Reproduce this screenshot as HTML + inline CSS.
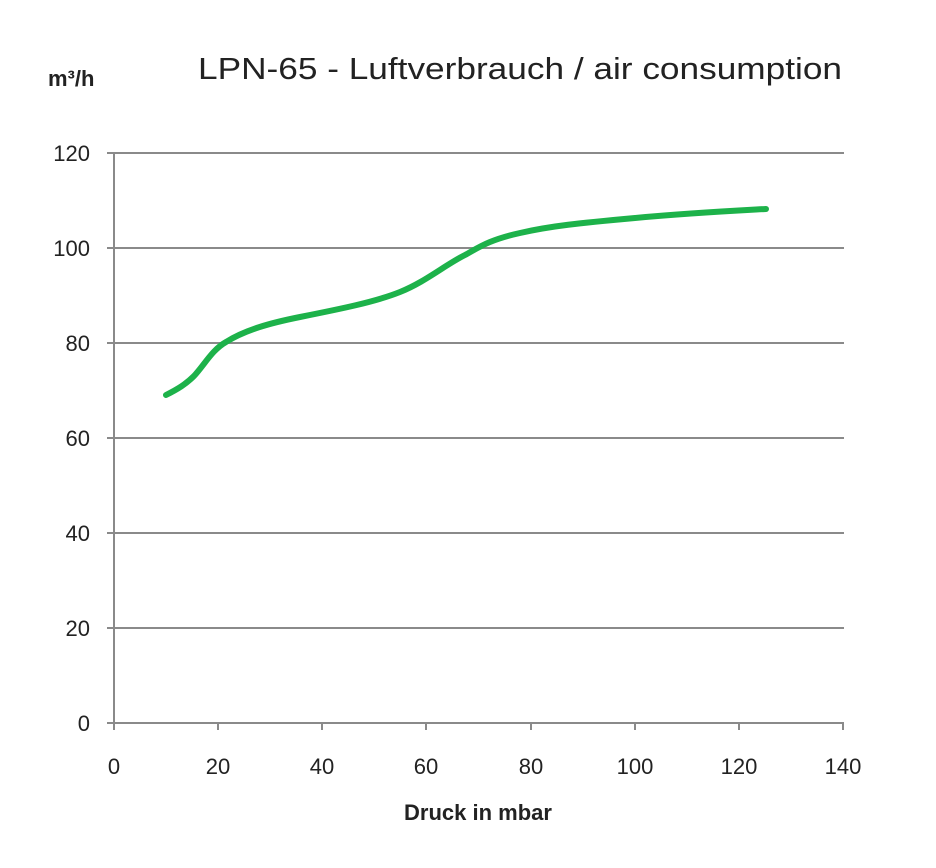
<!DOCTYPE html>
<html><head><meta charset="utf-8"><style>
body{margin:0;background:#fff;}
svg{display:block;font-family:"Liberation Sans",sans-serif;}
</style></head><body>
<svg width="936" height="868" viewBox="0 0 936 868">
<rect width="936" height="868" fill="#fff"/>
<g stroke="#8a8a8a" stroke-width="2">
<line x1="114" y1="153" x2="844" y2="153"/>
<line x1="114" y1="248" x2="844" y2="248"/>
<line x1="114" y1="343" x2="844" y2="343"/>
<line x1="114" y1="438" x2="844" y2="438"/>
<line x1="114" y1="533" x2="844" y2="533"/>
<line x1="114" y1="628" x2="844" y2="628"/>
<line x1="107" y1="723" x2="844" y2="723"/>
<line x1="114" y1="153" x2="114" y2="730"/>
<line x1="107" y1="153" x2="114" y2="153"/><line x1="107" y1="248" x2="114" y2="248"/>
<line x1="107" y1="343" x2="114" y2="343"/><line x1="107" y1="438" x2="114" y2="438"/>
<line x1="107" y1="533" x2="114" y2="533"/><line x1="107" y1="628" x2="114" y2="628"/>
<line x1="218" y1="723" x2="218" y2="730"/><line x1="322" y1="723" x2="322" y2="730"/>
<line x1="426" y1="723" x2="426" y2="730"/><line x1="531" y1="723" x2="531" y2="730"/>
<line x1="635" y1="723" x2="635" y2="730"/><line x1="739" y1="723" x2="739" y2="730"/>
<line x1="843" y1="723" x2="843" y2="730"/>
</g>
<g font-size="22" fill="#222" text-anchor="end">
<text x="90" y="161">120</text><text x="90" y="256">100</text><text x="90" y="351">80</text>
<text x="90" y="446">60</text><text x="90" y="541">40</text><text x="90" y="636">20</text><text x="90" y="731">0</text>
</g>
<g font-size="22" fill="#222" text-anchor="middle">
<text x="114" y="774">0</text><text x="218" y="774">20</text><text x="322" y="774">40</text>
<text x="426" y="774">60</text><text x="531" y="774">80</text><text x="635" y="774">100</text>
<text x="739" y="774">120</text><text x="843" y="774">140</text>
</g>
<text x="478" y="820" font-size="22" font-weight="bold" text-anchor="middle" fill="#222">Druck in mbar</text>
<text x="48" y="86" font-size="22" font-weight="bold" fill="#222">m³/h</text>
<text x="198" y="79" font-size="31" fill="#222" textLength="644" lengthAdjust="spacingAndGlyphs">LPN-65 - Luftverbrauch / air consumption</text>
<path d="M166,395 C178,389 186,384 194,376 C205,364 212,350 226,342 C245,330 270,323 300,317 C340,309 375,302 400,292 C425,282 445,265 465,255 C478,248 488,240 520,233 C550,226 580,223 635,218 C690,213 730,211 766,209" fill="none" stroke="#1db24a" stroke-width="6" stroke-linecap="round"/>
</svg>
</body></html>
